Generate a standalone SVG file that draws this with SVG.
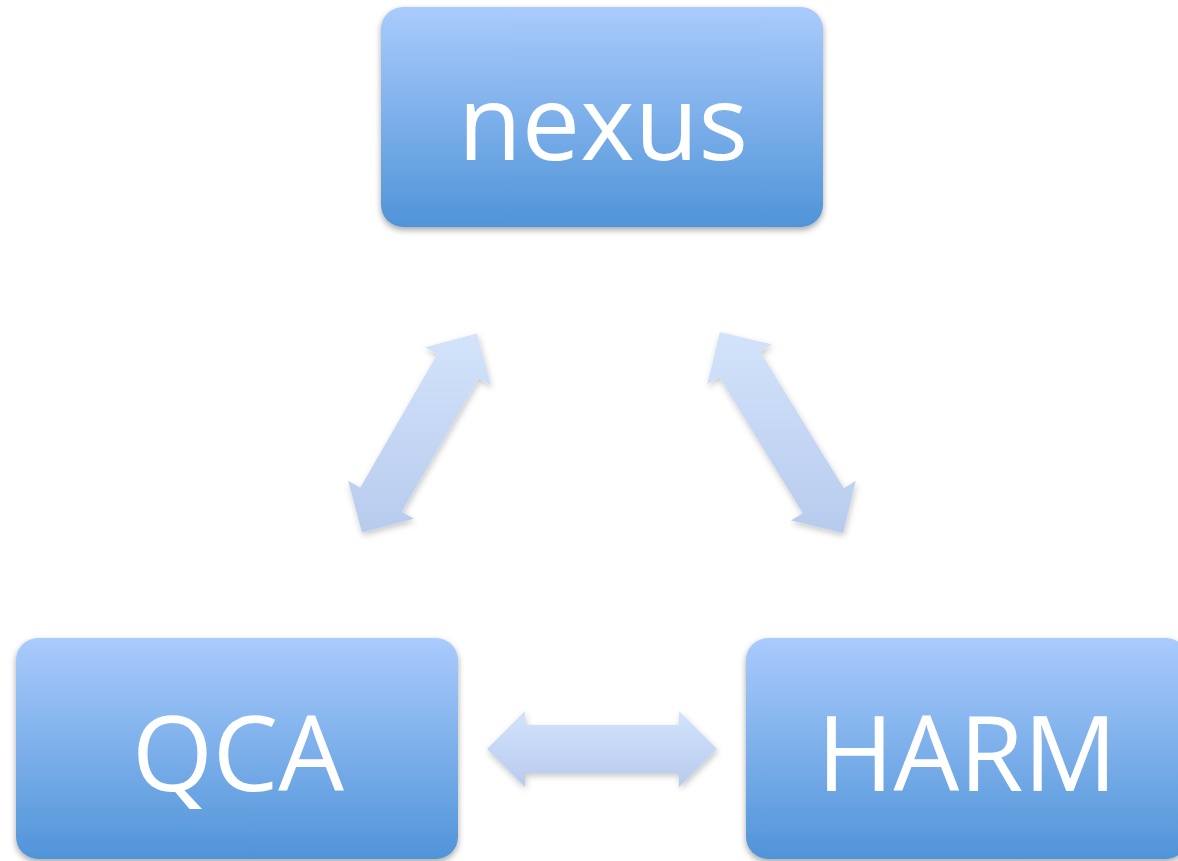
<svg xmlns="http://www.w3.org/2000/svg" width="1178" height="861" viewBox="0 0 1178 861">
  <defs>
    <linearGradient id="boxGrad" x1="0" y1="0" x2="0" y2="1">
      <stop offset="0" stop-color="#aacbfd"/>
      <stop offset="1" stop-color="#5094d8"/>
    </linearGradient>
    <linearGradient id="arrowGrad" x1="0" y1="0" x2="0" y2="1">
      <stop offset="0" stop-color="#d3e3fb"/>
      <stop offset="1" stop-color="#b7cbed"/>
    </linearGradient>
    <filter id="shadow" x="-10%" y="-10%" width="120%" height="125%">
      <feDropShadow dx="0" dy="3" stdDeviation="3" flood-color="#000" flood-opacity="0.35"/>
    </filter>
    <filter id="ashadow" x="-10%" y="-10%" width="125%" height="125%">
      <feDropShadow dx="1" dy="3" stdDeviation="3" flood-color="#000" flood-opacity="0.22"/>
    </filter>
  </defs>
  <style>
    .box { fill: url(#boxGrad); filter: url(#shadow); }
    .label { fill: #ffffff; font-family: "Open Sans", "Noto Sans", sans-serif; font-size: 104px; text-anchor: middle; }
    .arrow { fill: url(#arrowGrad); filter: url(#ashadow); }
  </style>
  <rect width="1178" height="861" fill="#ffffff"/>
  <g id="connectors">
    <polygon class="arrow" points="477,333.4 490.9,385.3 478.8,378.3 401.8,511.7 413.9,518.7 362,532.6 348.1,480.7 360.2,487.7 437.2,354.3 425.1,347.3"/>
    <polygon class="arrow" points="719.8,331.9 772.1,344.4 760.2,351.8 843.8,488.2 855.7,480.8 843.2,533.1 790.9,520.6 802.8,513.2 719.2,376.8 707.3,384.2"/>
    <polygon class="arrow" points="487,749 525,711 525,725 679,725 679,711 717,749 679,787 679,773 525,773 525,787"/>
  </g>
  <g id="nexus">
    <rect class="box" x="381" y="7" width="442" height="220" rx="22"/>
    <text class="label" x="603" y="160">nexus</text>
  </g>
  <g id="qca">
    <rect class="box" x="16" y="638" width="442" height="221" rx="22"/>
    <text class="label" x="238" y="791">QCA</text>
  </g>
  <g id="harm">
    <rect class="box" x="746" y="638" width="442" height="221" rx="22"/>
    <text class="label" x="967" y="791">HARM</text>
  </g>
</svg>
